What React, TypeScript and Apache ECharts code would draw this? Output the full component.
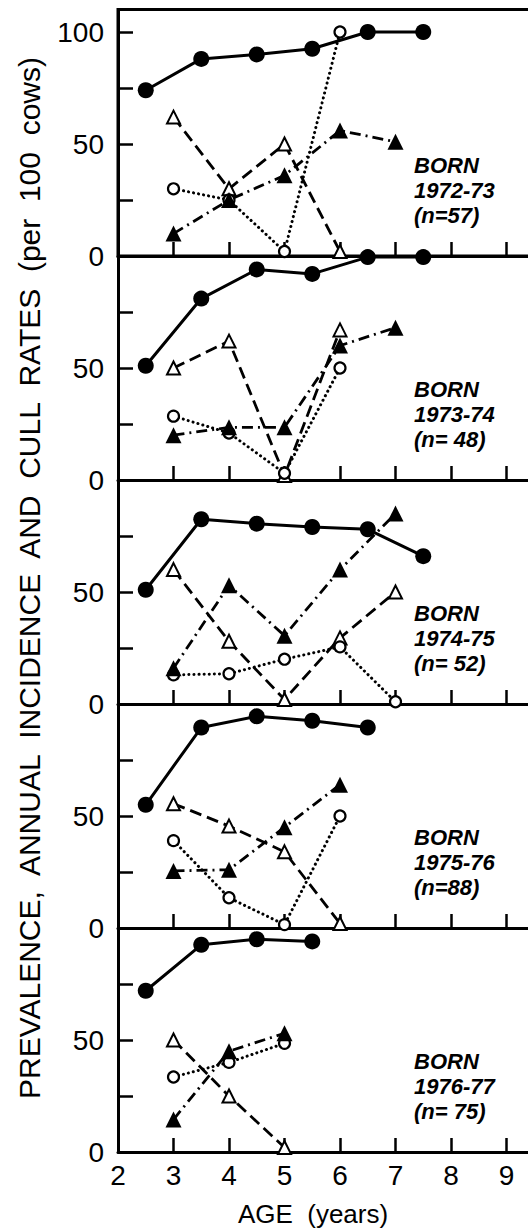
import { useEffect, useRef } from 'react';
import * as echarts from 'echarts';

// ---- data ----
const prevAges = [2.5, 3.5, 4.5, 5.5, 6.5, 7.5];
const rateAges = [3, 4, 5, 6, 7];
const cohorts = ['1972-73', '1973-74', '1974-75', '1975-76', '1976-77'];
const cohortN = ['57', ' 48', ' 52', '88', ' 75'];
const xTickLabels = ['2', '3', '4', '5', '6', '7', '8', '9', ''];

// filled circles, solid line
const prev7273 = [74, 88, 90, 92.5, 100, 100];
const prev7374 = [51, 81, 94, 92, 99.5, 99.5];
const prev7475 = [51, 82.5, 80.5, 79, 78, 66];
const prev7576 = [55, 89.5, 94.5, 92.5, 89.5];
const prev7677 = [72, 92.5, 95, 94];

// open triangles, dashed line
const openTri7273 = [62, 30, 50, 2];
const openTri7374 = [50, 62, 2, 67];
const openTri7475 = [60, 28, 2, 29.5, 50];
const openTri7576 = [55.5, 45.5, 34, 2];
const openTri7677 = [50, 25, 2];

// open circles, dotted line
const openCirc7273 = [30, 25, 2, 100];
const openCirc7374 = [28.5, 21, 3, 50];
const openCirc7475 = [13, 13.5, 20, 25.5, 1];
const openCirc7576 = [39, 13.5, 1.5, 50];
const openCirc7677 = [33.5, 40, 48.5];

// filled triangles, dash-dot line
const fillTri7273 = [10, 25, 36, 56, 51];
const fillTri7374 = [20, 23.5, 23.5, 60, 68];
const fillTri7475 = [16, 53, 30.5, 60, 85];
const fillTri7576 = [25.5, 26, 45, 64];
const fillTri7677 = [14.5, 45, 53];

const prevalence = [prev7273, prev7374, prev7475, prev7576, prev7677];
const openTri = [openTri7273, openTri7374, openTri7475, openTri7576, openTri7677];
const openCirc = [openCirc7273, openCirc7374, openCirc7475, openCirc7576, openCirc7677];
const fillTri = [fillTri7273, fillTri7374, fillTri7475, fillTri7576, fillTri7677];

const pairs = (xs: number[], ys: number[]) => ys.map((y, i) => [xs[i], y]);

export default function App() {
  const ref = useRef<HTMLDivElement>(null);
  useEffect(() => {
    if (!ref.current) return;
    const chart = echarts.init(ref.current, null, { renderer: 'svg' });
    const LEFT = 118;
    const UNIT_X = 55.5;
    const PX = 2.24;
    const Y0 = 256;
    const PH = 224;
    const tickFont = '"Liberation Sans", Arial, sans-serif';

    const grids: any[] = [];
    const xAxes: any[] = [];
    const yAxes: any[] = [];
    const series: any[] = [];
    const graphics: any[] = [];

    for (let i = 0; i < 5; i++) {
      const y0 = Y0 + PH * i;
      const max = i === 0 ? 110 : 100;
      const top = y0 - max * PX;
      grids.push({
        left: LEFT,
        width: UNIT_X * 8,
        top,
        height: max * PX,
        show: i === 0,
        borderColor: '#000',
        borderWidth: 3,
        backgroundColor: 'transparent',
      });
      xAxes.push({
        gridIndex: i,
        type: 'value',
        min: 2,
        max: 10,
        interval: 1,
        axisLine: { show: true, onZero: false, lineStyle: { color: '#000', width: 3 } },
        axisTick: { show: true, inside: true, length: 14, lineStyle: { color: '#000', width: 2.5 } },
        splitLine: { show: false },
        axisLabel: {
          show: i === 4,
          color: '#000',
          fontSize: 28,
          fontFamily: tickFont,
          margin: 9,
          formatter: (v: number) => xTickLabels[v - 2] ?? '',
        },
      });
      const shown = i === 0 ? [0, 50, 100] : [0, 50];
      yAxes.push({
        gridIndex: i,
        type: 'value',
        min: 0,
        max,
        interval: 25,
        axisLine: { show: true, lineStyle: { color: '#000', width: 3 } },
        axisTick: { show: true, inside: true, length: 15, lineStyle: { color: '#000', width: 2.5 } },
        splitLine: { show: false },
        axisLabel: {
          color: '#000',
          fontSize: 28,
          fontFamily: tickFont,
          margin: 14,
          formatter: (v: number) => (shown.includes(v) ? String(v) : ''),
        },
      });

      const base = { type: 'line', xAxisIndex: i, yAxisIndex: i, silent: true, z: 3 };
      series.push({
        ...base,
        name: 'Prevalence',
        data: pairs(prevAges, prevalence[i]),
        symbol: 'circle',
        symbolSize: 16,
        itemStyle: { color: '#000' },
        lineStyle: { color: '#000', width: 3, type: 'solid' },
      });
      series.push({
        ...base,
        name: 'Open triangles',
        data: pairs(rateAges, openTri[i]),
        symbol: 'triangle',
        symbolSize: 13,
        itemStyle: { color: '#fff', borderColor: '#000', borderWidth: 2 },
        lineStyle: { color: '#000', width: 2.8, type: [12, 6] },
      });
      series.push({
        ...base,
        name: 'Open circles',
        data: pairs(rateAges, openCirc[i]),
        symbol: 'circle',
        symbolSize: 11,
        itemStyle: { color: '#fff', borderColor: '#000', borderWidth: 2.2 },
        lineStyle: { color: '#000', width: 3, type: [0.1, 5], cap: 'round' },
      });
      series.push({
        ...base,
        name: 'Filled triangles',
        data: pairs(rateAges, fillTri[i]),
        symbol: 'triangle',
        symbolSize: 16,
        itemStyle: { color: '#000' },
        lineStyle: { color: '#000', width: 2.8, type: [11, 5, 2, 5] },
      });

      graphics.push({
        type: 'text',
        x: 414,
        y: y0 - 103,
        style: {
          text: `BORN\n${cohorts[i]}\n(n=${cohortN[i]})`,
          font: 'italic bold 22px "Liberation Sans", Arial, sans-serif',
          fill: '#000',
          lineHeight: 25,
          textAlign: 'left',
          textVerticalAlign: 'top',
        },
      });
    }

    graphics.push({
      type: 'text',
      x: 29,
      y: 578,
      rotation: Math.PI / 2,
      style: {
        text: 'PREVALENCE,  ANNUAL  INCIDENCE  AND  CULL  RATES  (per  100  cows)',
        font: '30px "Liberation Sans", Arial, sans-serif',
        fill: '#000',
        textAlign: 'center',
        textVerticalAlign: 'middle',
      },
    });
    graphics.push({
      type: 'text',
      x: 313,
      y: 1214,
      style: {
        text: 'AGE  (years)',
        font: '26px "Liberation Sans", Arial, sans-serif',
        fill: '#000',
        textAlign: 'center',
        textVerticalAlign: 'middle',
      },
    });

    chart.setOption({
      animation: false,
      backgroundColor: '#fff',
      grid: grids,
      xAxis: xAxes,
      yAxis: yAxes,
      series,
      graphic: graphics,
    });
    return () => chart.dispose();
  }, []);

  return (
    <div style={{ position: 'absolute', left: 0, top: 0, width: 528, height: 1230, overflow: 'hidden', background: '#fff' }}>
      <div ref={ref} style={{ width: 600, height: 1230 }} />
    </div>
  );
}
